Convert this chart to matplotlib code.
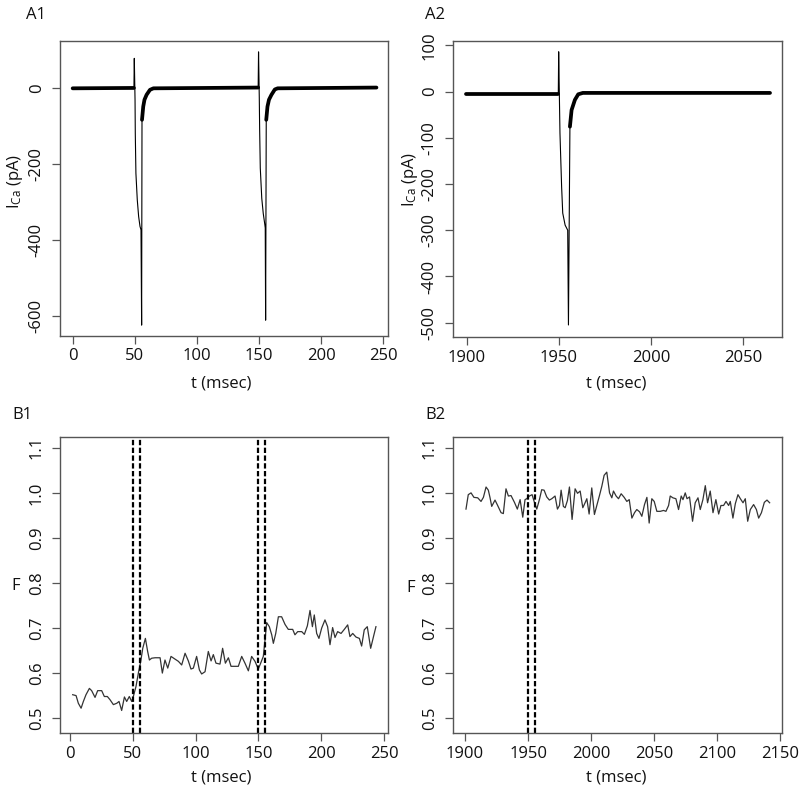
import matplotlib
matplotlib.use("Agg")
import matplotlib.pyplot as plt
import numpy as np

plt.rcParams['font.family'] = ['Open Sans', 'DejaVu Sans']
plt.rcParams['mathtext.fontset'] = 'custom'
plt.rcParams['mathtext.rm'] = 'Open Sans'
plt.rcParams['mathtext.it'] = 'Open Sans:italic'
plt.rcParams['axes.unicode_minus'] = False

# ---------------- Data ----------------
# A1: calcium current trace (key points)
a1_t = [0, 49.3, 49.6, 50.2, 50.4, 50.9, 52.0, 53.1, 54.2, 55.0, 55.5,
        55.8, 56.8, 57.8, 59.5, 62.2, 65.0, 149.3,
        149.6, 150.2, 150.5, 151.0, 152.2, 153.4, 154.7, 155.0, 155.3,
        155.8, 156.8, 158.0, 160.0, 162.7, 165.0, 244.5]
a1_i = [0, 1, 79, -31, -119, -224, -294, -338, -364, -373, -624,
        -83, -48, -30, -17, -4, 0, 2,
        96, -25, -110, -210, -290, -330, -360, -368, -611,
        -83, -48, -30, -17, -3, 0, 2]
a1_thick = [(0, 1), (11, 17), (27, 33)]

# A2
a2_t = [1899.5, 1949.7, 1949.9, 1950.6, 1951.5, 1952.1, 1953.4, 1954.8, 1955.2,
        1956.0, 1956.9, 1958.7, 1960.5, 1963.0, 2064.5]
a2_i = [-5, -5, 86, -90, -206, -263, -289, -300, -505,
        -76, -40, -18, -6, -3, -3]
a2_thick = [(0, 1), (9, 14)]

# B1: fluorescence
b1_t = [2.1, 4.8, 6.6, 8.8, 10.6, 12.7, 15.4, 17.2, 19.9, 22.0, 25.2, 27.3, 29.7,
        31.8, 34.5, 37.2, 39.0, 41.1, 43.3, 45.1, 47.2, 49.1, 50.4, 52.5, 54.4,
        56.3, 57.9, 60.0, 61.8, 63.2, 65.0, 67.7, 71.7, 73.5, 75.6, 77.8, 80.4,
        83.6, 86.3, 88.9, 91.6, 94.2, 96.3, 98.2, 100.8, 103.0, 104.8, 107.5,
        110.1, 112.3, 114.1, 116.2, 119.4, 121.5, 123.7, 126.1, 128.2, 131.4,
        134.0, 136.7, 139.3, 142.0, 144.6, 147.3, 149.9, 151.8, 153.9, 155.3,
        156.6, 158.7, 160.6, 161.9, 163.8, 165.9, 168.5, 171.2, 173.8, 177.3,
        179.1, 181.3, 184.5, 186.6, 189.0, 191.1, 193.0, 194.5, 196.4, 198.2,
        200.4, 203.0, 205.1, 207.0, 209.1, 211.0, 213.1, 215.8, 218.4, 221.1,
        222.9, 225.1, 227.7, 230.4, 232.2, 234.3, 236.7, 239.4, 242.0, 243.6]
b1_f = [0.552, 0.550, 0.533, 0.522, 0.537, 0.552, 0.566, 0.561, 0.546, 0.561,
        0.561, 0.548, 0.548, 0.541, 0.530, 0.533, 0.537, 0.517, 0.547, 0.537,
        0.548, 0.537, 0.548, 0.570, 0.600, 0.626, 0.655, 0.677, 0.648, 0.629,
        0.633, 0.634, 0.634, 0.600, 0.629, 0.611, 0.637, 0.631, 0.626, 0.618,
        0.644, 0.627, 0.609, 0.611, 0.637, 0.607, 0.598, 0.603, 0.648, 0.627,
        0.641, 0.622, 0.620, 0.655, 0.622, 0.634, 0.615, 0.615, 0.615, 0.637,
        0.622, 0.605, 0.637, 0.626, 0.609, 0.622, 0.637, 0.674, 0.712, 0.703,
        0.685, 0.666, 0.688, 0.725, 0.725, 0.708, 0.697, 0.697, 0.685, 0.692,
        0.692, 0.686, 0.705, 0.739, 0.703, 0.729, 0.688, 0.677, 0.700, 0.718,
        0.703, 0.663, 0.701, 0.679, 0.692, 0.688, 0.697, 0.707, 0.681, 0.688,
        0.680, 0.677, 0.660, 0.696, 0.703, 0.655, 0.685, 0.703]

# B2
b2_t = [1900.8, 1902.6, 1904.8, 1907.1, 1910.1, 1912.7, 1914.6, 1916.7, 1918.5,
        1919.8, 1921.2, 1923.8, 1925.9, 1928.6, 1930.4, 1932.5, 1934.4, 1936.5,
        1939.2, 1941.5, 1943.7, 1945.8, 1947.6, 1948.9, 1951.1, 1953.2, 1954.8,
        1956.9, 1959.0, 1960.8, 1962.7, 1964.8, 1966.9, 1968.8, 1971.4, 1973.3,
        1974.9, 1976.2, 1978.0, 1979.4, 1981.2, 1982.8, 1984.9, 1987.3, 1989.2,
        1991.3, 1993.4, 1995.2, 1996.6, 1998.4, 2000.5, 2002.6, 2004.5, 2006.6,
        2008.5, 2010.3, 2012.4, 2014.6, 2016.4, 2017.7, 2019.8, 2021.7, 2023.8,
        2026.2, 2028.3, 2030.2, 2032.3, 2034.4, 2036.2, 2038.4, 2040.2, 2042.3,
        2044.2, 2046.0, 2048.1, 2050.0, 2052.1, 2054.8, 2057.4, 2059.3, 2061.4,
        2062.7, 2064.8, 2067.2, 2069.3, 2071.4, 2072.8, 2074.6, 2076.0, 2078.0,
        2080.4, 2082.5, 2084.7, 2086.5, 2088.6, 2090.5, 2092.3, 2094.4, 2096.6,
        2098.9, 2101.1, 2102.9, 2105.0, 2106.9, 2109.0, 2110.3, 2112.4, 2114.3,
        2116.4, 2118.3, 2120.4, 2122.2, 2124.1, 2126.2, 2128.8, 2131.0, 2132.8,
        2135.0, 2137.3, 2139.4, 2141.5]
b2_f = [0.964, 0.996, 1.000, 0.990, 0.989, 0.981, 0.990, 1.013, 1.006, 0.990,
        0.970, 0.984, 0.972, 0.956, 0.954, 1.009, 0.993, 0.994, 0.979, 0.964,
        0.985, 0.946, 0.985, 0.987, 0.993, 0.996, 0.981, 0.964, 0.985, 1.007,
        1.006, 0.991, 0.984, 0.987, 0.993, 0.964, 0.972, 1.006, 0.970, 0.967,
        0.983, 1.013, 0.941, 1.009, 0.999, 1.004, 0.967, 0.978, 0.987, 0.953,
        1.011, 0.952, 0.972, 0.994, 1.015, 1.039, 1.046, 1.000, 0.989, 1.004,
        0.993, 0.987, 0.998, 0.990, 0.981, 0.985, 0.944, 0.956, 0.963, 0.958,
        0.948, 0.974, 0.990, 0.933, 0.987, 0.981, 0.959, 0.959, 0.961, 0.959,
        0.972, 0.993, 0.989, 0.987, 0.963, 0.993, 0.985, 1.000, 0.987, 0.991,
        0.937, 0.978, 0.989, 0.963, 0.985, 1.016, 0.978, 1.004, 0.956, 0.985,
        0.953, 0.972, 0.972, 0.981, 0.972, 0.981, 0.944, 0.976, 0.996, 0.987,
        0.978, 0.987, 0.937, 0.963, 0.974, 0.963, 0.944, 0.956, 0.979, 0.984,
        0.978]

b1_vlines = [50, 55.5, 150, 155.5]
b2_vlines = [1950, 1955.3]

a1_yticks = [0, -200, -400, -600]
a1_xticks = [0, 50, 100, 150, 200, 250]
a2_yticks = [100, 0, -100, -200, -300, -400, -500]
a2_xticks = [1900, 1950, 2000, 2050]
b_yticks = [0.5, 0.6, 0.7, 0.8, 0.9, 1.0, 1.1]
b1_xticks = [0, 50, 100, 150, 200, 250]
b2_xticks = [1900, 1950, 2000, 2050, 2100, 2150]

# ---------------- Figure ----------------
W, H = 800, 795
fig = plt.figure(figsize=(W / 100, H / 100), dpi=100)

def px_axes(l, t, r, b):
    return fig.add_axes([l / W, 1 - b / H, (r - l) / W, (b - t) / H])

BOX = '#555555'
TXT = '#111111'

def style(ax, xticks, yticks, xlim, ylim, yfmt=None):
    ax.set_xlim(*xlim)
    ax.set_ylim(*ylim)
    ax.set_xticks(xticks)
    ax.set_yticks(yticks)
    if yfmt:
        ax.set_yticklabels([yfmt(v) for v in yticks])
    for s in ax.spines.values():
        s.set_color(BOX)
        s.set_linewidth(1.0)
    ax.tick_params(direction='out', length=6, width=0.9, color=BOX,
                   labelsize=12, labelcolor=TXT)
    ax.tick_params(axis='x', pad=3)
    ax.tick_params(axis='y', pad=5)
    for lab in ax.get_yticklabels():
        lab.set_rotation(90)
        lab.set_va('center')

THICK = 2.7

def draw_trace(ax, t, i, thick):
    ax.plot(t, i, color='black', lw=0.8)
    for s, e in thick:
        ax.plot(t[s:e + 1], i[s:e + 1], color='black', lw=THICK,
                solid_capstyle='round', solid_joinstyle='round')

# A1
ax = px_axes(60, 41, 388, 336)
draw_trace(ax, a1_t, a1_i, a1_thick)
style(ax, a1_xticks, a1_yticks, (-10.2, 253.8), (-652.7, 124.7))

# A2
ax = px_axes(453, 41, 782, 337)
draw_trace(ax, a2_t, a2_i, a2_thick)
style(ax, a2_xticks, a2_yticks, (1892.6, 2071), (-531, 109.3))

# B1
ax = px_axes(60, 437, 388, 733)
ax.plot(b1_t, b1_f, color='#333333', lw=0.9)
for v in b1_vlines:
    ax.axvline(v, color='black', lw=1.6, linestyle=(0, (2.4, 1.1)))
style(ax, b1_xticks, b_yticks, (-8, 253.2), (0.467, 1.124),
      yfmt=lambda v: f'{v:.1f}')

# B2
ax = px_axes(453, 437, 782, 733)
ax.plot(b2_t, b2_f, color='#333333', lw=0.9)
for v in b2_vlines:
    ax.axvline(v, color='black', lw=1.6, linestyle=(0, (2.4, 1.1)))
style(ax, b2_xticks, b_yticks, (1890.5, 2151.3), (0.467, 1.124),
      yfmt=lambda v: f'{v:.1f}')

def ftext(x, y, s, **kw):
    fig.text(x / W, 1 - y / H, s, **kw)

lab_kw = dict(fontsize=12, color=TXT, fontweight='medium')
ftext(26, 15, 'A1', ha='left', va='center', **lab_kw)
ftext(425, 15, 'A2', ha='left', va='center', **lab_kw)
ftext(12, 415, 'B1', ha='left', va='center', **lab_kw)
ftext(425, 415, 'B2', ha='left', va='center', **lab_kw)

xl_kw = dict(fontsize=12, color=TXT, ha='center', va='center')
ftext(221, 383, 't (msec)', **xl_kw)
ftext(616, 383, 't (msec)', **xl_kw)
ftext(221, 778, 't (msec)', **xl_kw)
ftext(616, 778, 't (msec)', **xl_kw)

ftext(15, 181, r'I$_{\mathrm{Ca}}$ (pA)', rotation=90, **xl_kw)
ftext(410, 179, r'I$_{\mathrm{Ca}}$ (pA)', rotation=90, **xl_kw)
ftext(16, 586, 'F', **xl_kw)
ftext(411, 588, 'F', **xl_kw)

fig.savefig('out.png', dpi=100)
